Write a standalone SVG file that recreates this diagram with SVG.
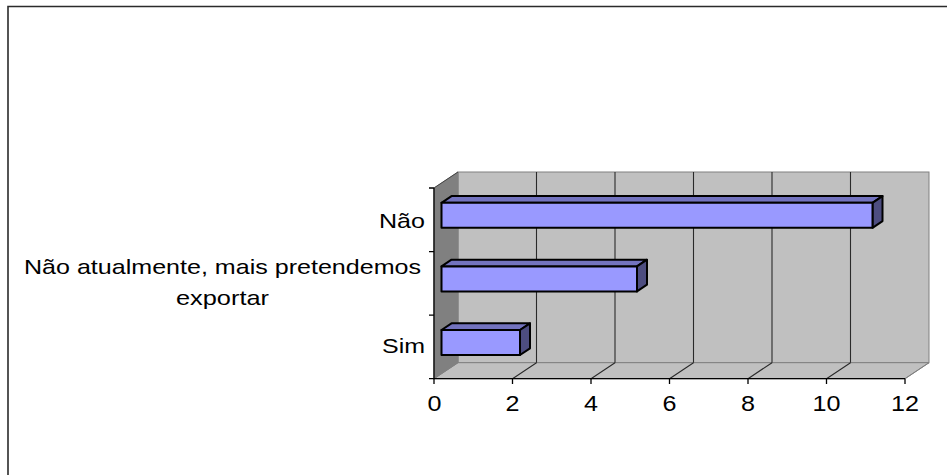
<svg xmlns="http://www.w3.org/2000/svg" width="947" height="475" viewBox="0 0 947 475">
<style>
text{font-family:"Liberation Sans",Arial,sans-serif;fill:#000}
.lbl{font-size:21px}
.num{font-size:22px;text-anchor:middle}
.wall{fill:#C0C0C0;stroke:#808080;stroke-width:1}
.side{fill:#808080;stroke:#808080;stroke-width:1}
.grid{stroke:#2a2a2a;stroke-width:1.1;fill:none}
.axis{stroke:#000;stroke-width:1.3;fill:none}
.front{fill:#9999FF;stroke:#000;stroke-width:2;stroke-linejoin:round}
.top{fill:#7373BF;stroke:#000;stroke-width:2;stroke-linejoin:round}
.end{fill:#4D4D80;stroke:#000;stroke-width:2;stroke-linejoin:round}
</style>
<rect width="947" height="475" fill="#fff"/>
<path d="M8,475 V6.5 H947" fill="none" stroke="#2b2b2b" stroke-width="1.6"/>
<g id="plot-area">
<rect class="wall" x="458" y="172" width="471" height="190.7"/>
<polygon class="wall" points="434,378.7 905,378.7 929,362.7 458,362.7"/>
<polygon class="side" points="434,188 458,172 458,362.7 434,378.7"/>
<g class="grid">
<path d="M536.5,172V362.7M615,172V362.7M693.5,172V362.7M772,172V362.7M850.5,172V362.7"/>
<path d="M512.5,378.7L536.5,362.7M591,378.7L615,362.7M669.5,378.7L693.5,362.7M748,378.7L772,362.7M826.5,378.7L850.5,362.7"/>
</g>
<path d="M905,378.7L929,362.7" stroke="#808080" stroke-width="1" fill="none"/>
<path d="M434,188L458,172" stroke="#444" stroke-width="1" fill="none"/>
</g>
<g id="axes">
<path class="axis" d="M434,188V378.7H905"/>
<path class="axis" d="M429,188H434M429,251.6H434M429,315.1H434M429,378.7H434"/>
<path class="axis" d="M434,378.7V384M512.5,378.7V384M591,378.7V384M669.5,378.7V384M748,378.7V384M826.5,378.7V384M905,378.7V384"/>
<text class="num" x="434.5" y="411" textLength="14" lengthAdjust="spacingAndGlyphs">0</text>
<text class="num" x="512.5" y="411" textLength="14" lengthAdjust="spacingAndGlyphs">2</text>
<text class="num" x="591" y="411" textLength="14" lengthAdjust="spacingAndGlyphs">4</text>
<text class="num" x="669.5" y="411" textLength="14" lengthAdjust="spacingAndGlyphs">6</text>
<text class="num" x="748" y="411" textLength="14" lengthAdjust="spacingAndGlyphs">8</text>
<text class="num" x="826.5" y="411" textLength="28" lengthAdjust="spacingAndGlyphs">10</text>
<text class="num" x="905" y="411" textLength="28" lengthAdjust="spacingAndGlyphs">12</text>
</g>
<g id="label-nao">
<text class="lbl" x="425" y="227.5" text-anchor="end" textLength="46" lengthAdjust="spacingAndGlyphs">Não</text>
</g>
<g id="label-nao-atualmente">
<text class="lbl" x="24" y="273.5" textLength="397" lengthAdjust="spacingAndGlyphs">Não atualmente, mais pretendemos</text>
<text class="lbl" x="222.5" y="304.5" text-anchor="middle" textLength="93" lengthAdjust="spacingAndGlyphs">exportar</text>
</g>
<g id="label-sim">
<text class="lbl" x="425" y="352.5" text-anchor="end" textLength="43" lengthAdjust="spacingAndGlyphs">Sim</text>
</g>
<g id="bar-nao">
<polygon class="top" points="441.5,202.8 451.5,196.1 882.5,196.1 872.5,202.8"/>
<polygon class="end" points="872.5,202.8 882.5,196.1 882.5,221.1 872.5,227.8"/>
<rect class="front" x="441.5" y="202.8" width="431" height="25"/>
</g>
<g id="bar-nao-atualmente">
<polygon class="top" points="441.5,266.4 451.5,259.7 647,259.7 637,266.4"/>
<polygon class="end" points="637,266.4 647,259.7 647,284.7 637,291.4"/>
<rect class="front" x="441.5" y="266.4" width="195.5" height="25"/>
</g>
<g id="bar-sim">
<polygon class="top" points="441.5,330 451.5,323.3 530,323.3 520,330"/>
<polygon class="end" points="520,330 530,323.3 530,348.3 520,355"/>
<rect class="front" x="441.5" y="330" width="78.5" height="25"/>
</g>
</svg>
